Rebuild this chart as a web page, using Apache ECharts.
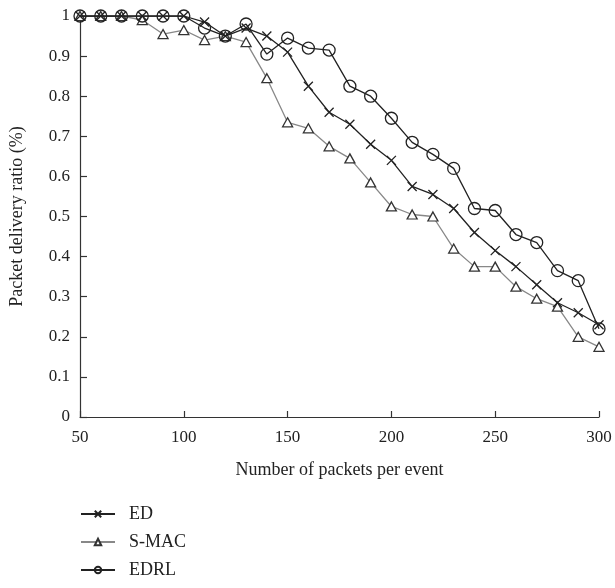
<!DOCTYPE html>
<html>
<head>
<meta charset="utf-8">
<script src="https://cdn.jsdelivr.net/npm/echarts@6/dist/echarts.min.js"></script>
<style>html,body{margin:0;padding:0;background:#fff}#c{width:615px;height:588px}</style>
</head>
<body>
<div id="c"></div>
<script>
const xValues = [50,60,70,80,90,100,110,120,130,140,150,160,170,180,190,200,210,220,230,240,250,260,270,280,290,300];
const edValues = [1,1,1,1,1,1,0.985,0.95,0.97,0.95,0.91,0.825,0.76,0.73,0.68,0.64,0.575,0.555,0.52,0.46,0.415,0.375,0.33,0.285,0.26,0.23];
const smacValues = [1,1,1,0.99,0.955,0.965,0.94,0.95,0.935,0.845,0.735,0.72,0.675,0.645,0.585,0.525,0.505,0.5,0.42,0.375,0.375,0.325,0.295,0.275,0.2,0.175];
const edrlValues = [1,1,1,1,1,1,0.97,0.95,0.98,0.905,0.945,0.92,0.915,0.825,0.8,0.745,0.685,0.655,0.62,0.52,0.515,0.455,0.435,0.365,0.34,0.22];
const seriesNames = ['ED','S-MAC','EDRL'];
const xTitle = 'Number of packets per event';
const yTitle = 'Packet delivery ratio (%)';

const FONT = "'Liberation Serif','DejaVu Serif',serif";
const pair = arr => xValues.map((x,i)=>[x,arr[i]]);
const chart = echarts.init(document.getElementById('c'), null, {renderer:'canvas'});
chart.setOption({
  animation:false,
  backgroundColor:'#fff',
  textStyle:{fontFamily:FONT},
  grid:{left:80,right:16,top:16,height:401},
  xAxis:{
    type:'value',min:50,max:300,interval:50,
    name:xTitle,nameLocation:'middle',nameGap:44,
    nameTextStyle:{fontFamily:FONT,fontSize:18,color:'#222'},
    axisLine:{lineStyle:{color:'#333',width:1.2}},
    axisTick:{inside:true,length:6,lineStyle:{color:'#333',width:1.2}},
    axisLabel:{fontFamily:FONT,fontSize:17,color:'#222',margin:12},
    splitLine:{show:false}
  },
  yAxis:{
    type:'value',min:0,max:1,interval:0.1,
    name:yTitle,nameLocation:'middle',nameGap:54,nameRotate:90,
    nameTextStyle:{fontFamily:FONT,fontSize:18,color:'#222'},
    axisLine:{show:true,lineStyle:{color:'#333',width:1.2}},
    axisTick:{show:true,inside:true,length:7,lineStyle:{color:'#333',width:1.2}},
    axisLabel:{fontFamily:FONT,fontSize:17,color:'#222',margin:10,
      formatter:v=>{const r=Math.round(v*10)/10; return (r===0||r===1)?String(r):r.toFixed(1);}},
    splitLine:{show:false}
  },
  legend:{
    orient:'vertical',left:80,top:505,padding:0,height:82,itemGap:10,itemWidth:34,itemHeight:8,
    textStyle:{fontFamily:FONT,fontSize:18,color:'#222',padding:[0,0,0,9]},
    data:seriesNames
  },
  series:[
    {name:'ED',type:'line',data:pair(edValues),
     symbol:'path://M0,0L10,10M10,0L0,10',symbolSize:9,
     lineStyle:{color:'#222',width:1.3},
     itemStyle:{color:'#222',borderColor:'#222',borderWidth:1.3},z:3},
    {name:'S-MAC',type:'line',data:pair(smacValues),
     symbol:'triangle',symbolSize:[10,9],
     lineStyle:{color:'#888',width:1.3},
     itemStyle:{color:'#fff',borderColor:'#333',borderWidth:1.3},z:2},
    {name:'EDRL',type:'line',data:pair(edrlValues),
     symbol:'circle',symbolSize:12,
     lineStyle:{color:'#222',width:1.3},
     itemStyle:{color:'rgba(255,255,255,0)',borderColor:'#222',borderWidth:1.3},z:4}
  ]
});
</script>
</body>
</html>
